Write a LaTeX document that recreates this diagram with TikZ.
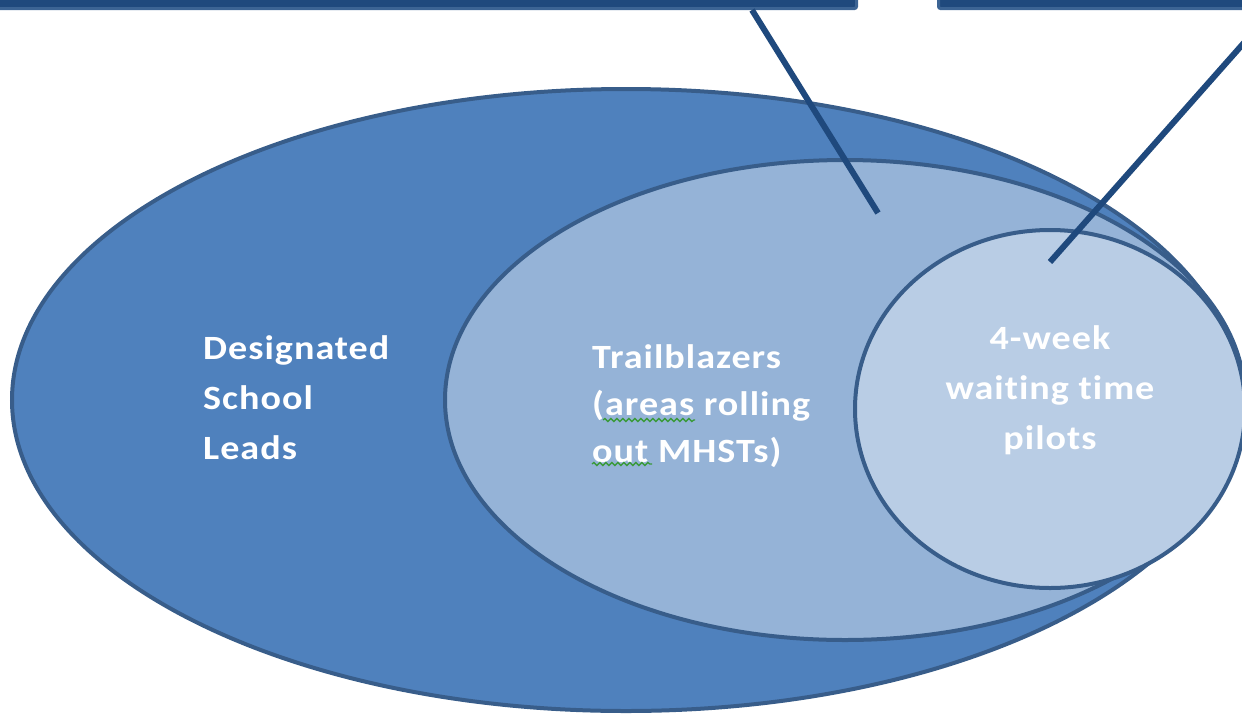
\documentclass[tikz,border=0pt]{standalone}
\usepackage{fontspec}
\setmainfont{Carlito}
\newfontfamily\labelfont[FakeStretch=1.12,LetterSpace=3,Ligatures=NoCommon]{Carlito}
\usetikzlibrary{shapes.geometric,decorations.pathmorphing}
\definecolor{outerblue}{HTML}{4F81BD}
\definecolor{midblue}{HTML}{95B3D7}
\definecolor{lightblue}{HTML}{B9CDE5}
\definecolor{rimblue}{HTML}{385D8A}
\definecolor{navy}{HTML}{1F497D}
\definecolor{boxrim}{HTML}{3C6494}
\definecolor{squiggle}{HTML}{3A9A3A}
\begin{document}
\begin{tikzpicture}[x=1pt,y=-1pt,
  region/.style={ellipse, draw=rimblue, line width=4pt, inner sep=0pt},
  callbox/.style={rectangle, rounded corners=2pt, fill=navy, draw=boxrim, line width=3pt, inner sep=0pt},
  label/.style={text=white, font=\labelfont\bfseries\fontsize{34}{50}\selectfont, inner sep=0pt},
  leader/.style={draw=navy, line width=6pt},
  spell/.style={draw=squiggle, line width=1.3pt, decorate,
    decoration={snake, amplitude=1.5pt, segment length=6pt}}
]
\useasboundingbox (0,0) rectangle (1242,713);

% nested regions
\node[region, fill=outerblue, minimum width=1228pt, minimum height=622pt] (outer) at (626,400) {};
\node[region, fill=midblue, minimum width=800pt, minimum height=480pt] (mid) at (845,400) {};
\node[region, fill=lightblue, minimum width=390pt, minimum height=358pt] (inner) at (1050,409) {};

% callout boxes along the top edge
\node[callbox, anchor=south east, minimum width=880pt, minimum height=70pt] (lbox) at (858,10) {};
\node[callbox, anchor=south west, minimum width=400pt, minimum height=70pt] (rbox) at (937,10) {};

% leader lines from the callouts into the regions
\coordinate (p1) at (878,213);
\coordinate (p2) at (1050,262);
\draw[leader] ([xshift=-106pt]lbox.south east) -- (p1);
\draw[leader] ([xshift=336pt]rbox.south west) -- (p2);

% region labels
\node[label, align=left, anchor=west] (dsl) at (203,398) {Designated\\School\\Leads};
\node[label, align=left, anchor=west, font=\labelfont\bfseries\fontsize{34}{47}\selectfont] (tb) at (592,406)
  {Trailblazers\\(areas rolling\\out MHSTs)};
\node[label, align=center] (wt) at (1050,390) {4-week\\waiting time\\pilots};

% spell-check underlines
\draw[spell] (603,420) -- (695,420);
\draw[spell] (592,464) -- (652,464);
\end{tikzpicture}
\end{document}
